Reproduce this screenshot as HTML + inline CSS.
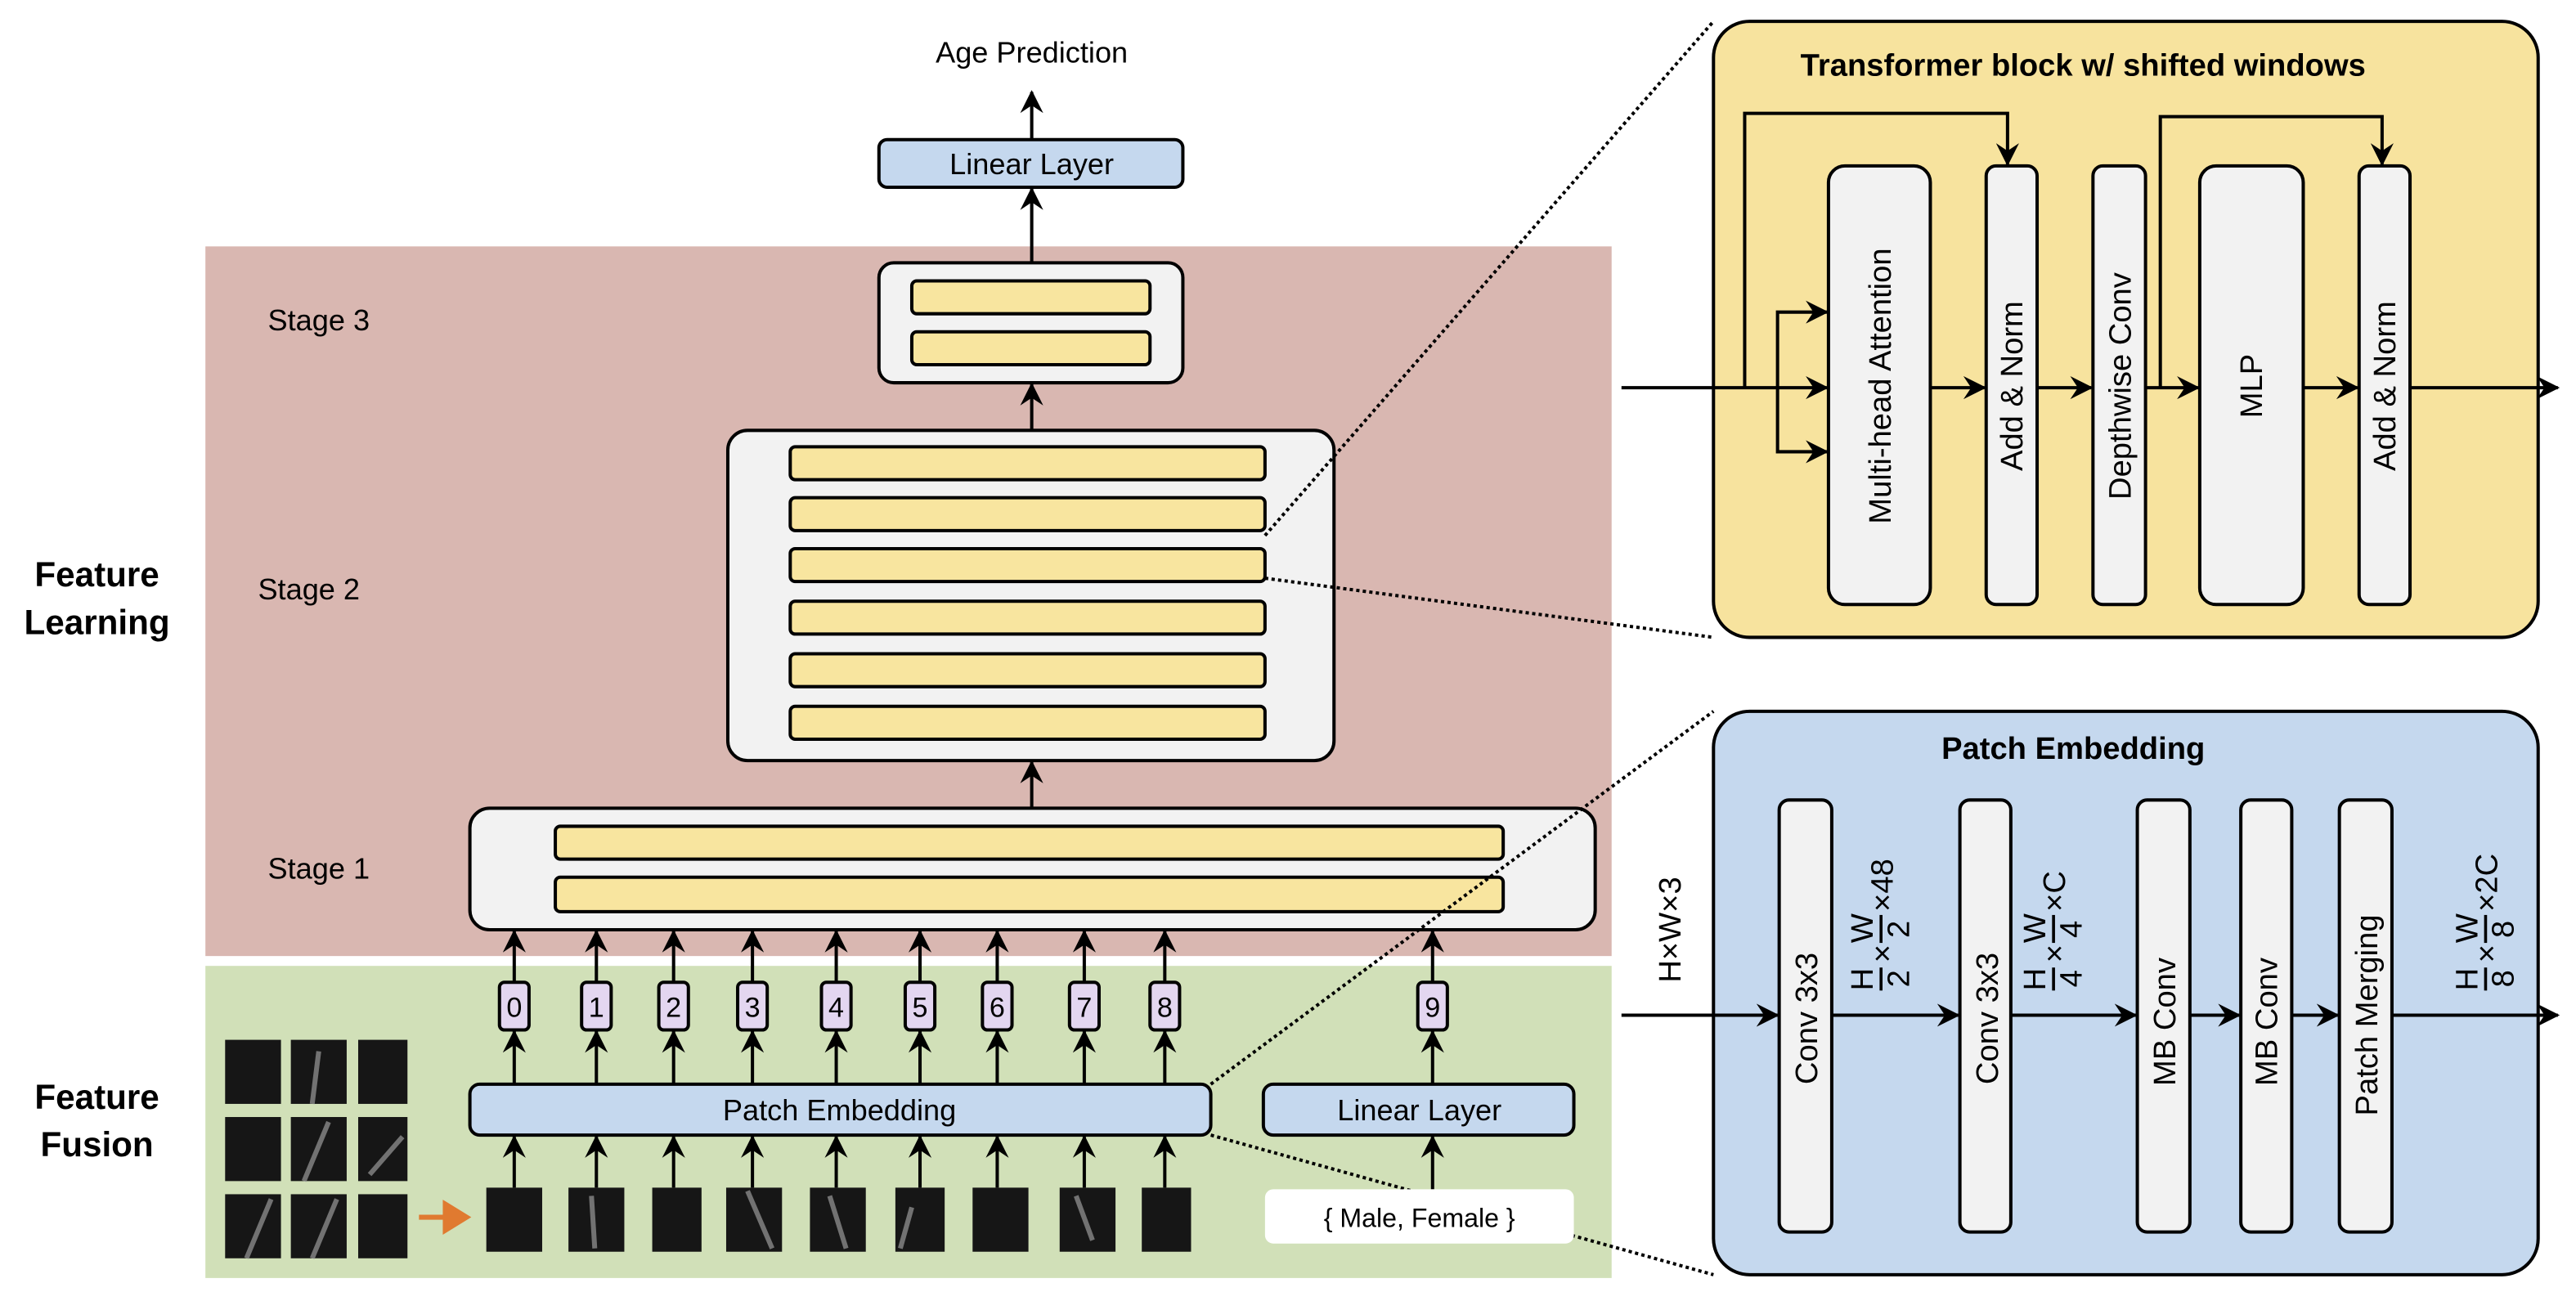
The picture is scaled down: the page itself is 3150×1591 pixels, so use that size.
<!DOCTYPE html>
<html><head><meta charset="utf-8"><style>html,body{margin:0;padding:0;background:#fff;}svg{display:block}text{font-family:"Liberation Sans",Arial,sans-serif;fill:#000}</style></head><body>
<svg width="3150" height="1591" viewBox="0 0 1568 792" xmlns="http://www.w3.org/2000/svg">
<defs>
<marker id="a" viewBox="0 0 12 12" refX="11" refY="6" markerWidth="14" markerHeight="14" orient="auto" markerUnits="userSpaceOnUse"><path d="M0,0 L12,6 L0,12 L4,6 z" fill="#000"/></marker>
</defs>
<rect x="125" y="150" width="856" height="432" fill="#d9b7b1"/>
<rect x="125" y="588" width="856" height="190" fill="#d1e0b8"/>
<g font-weight="bold" font-size="21" text-anchor="middle">
<text x="59" y="357">Feature</text><text x="59" y="386">Learning</text>
<text x="59" y="675">Feature</text><text x="59" y="704">Fusion</text></g>
<g font-size="18"><text x="163" y="201">Stage 3</text><text x="157" y="365">Stage 2</text><text x="163" y="535">Stage 1</text></g>
<text x="628" y="38" font-size="18" text-anchor="middle">Age Prediction</text>
<g stroke="#000" stroke-width="2" fill="none" marker-end="url(#a)">
<line x1="628" y1="85" x2="628" y2="56"/><line x1="628" y1="160" x2="628" y2="115"/>
<line x1="628" y1="262" x2="628" y2="234"/><line x1="628" y1="492" x2="628" y2="464"/>
</g>
<rect x="535" y="85" width="185" height="29" rx="5" fill="#c5d8ee" stroke="#000" stroke-width="2"/>
<text x="628" y="106" font-size="18" text-anchor="middle">Linear Layer</text>
<g stroke="#000" stroke-width="2">
<rect x="535" y="160" width="185" height="73" rx="9" fill="#f2f2f2"/>
<rect x="555" y="171" width="145" height="20" rx="3" fill="#f8e59f"/><rect x="555" y="202" width="145" height="20" rx="3" fill="#f8e59f"/>
<rect x="443" y="262" width="369" height="201" rx="12" fill="#f2f2f2"/>
<rect x="481" y="272" width="289" height="20" rx="3" fill="#f8e59f"/><rect x="481" y="303" width="289" height="20" rx="3" fill="#f8e59f"/>
<rect x="481" y="334" width="289" height="20" rx="3" fill="#f8e59f"/><rect x="481" y="366" width="289" height="20" rx="3" fill="#f8e59f"/>
<rect x="481" y="398" width="289" height="20" rx="3" fill="#f8e59f"/><rect x="481" y="430" width="289" height="20" rx="3" fill="#f8e59f"/>
<rect x="286" y="492" width="685" height="74" rx="12" fill="#f2f2f2"/>
<rect x="338" y="503" width="577" height="20" rx="3" fill="#f8e59f"/><rect x="338" y="534" width="577" height="21" rx="3" fill="#f8e59f"/>
</g>
<g stroke="#000" stroke-width="2" fill="none" stroke-dasharray="2,2">
<line x1="770" y1="326" x2="1043" y2="13"/><line x1="770" y1="352" x2="1043" y2="388"/>
<line x1="737" y1="660" x2="1043" y2="433"/><line x1="737" y1="691" x2="1043" y2="776"/>
</g>
<g stroke="#000" stroke-width="2" marker-end="url(#a)">
<line x1="313" y1="598" x2="313" y2="567"/><line x1="363" y1="598" x2="363" y2="567"/><line x1="410" y1="598" x2="410" y2="567"/><line x1="458" y1="598" x2="458" y2="567"/><line x1="509" y1="598" x2="509" y2="567"/><line x1="560" y1="598" x2="560" y2="567"/><line x1="607" y1="598" x2="607" y2="567"/><line x1="660" y1="598" x2="660" y2="567"/><line x1="709" y1="598" x2="709" y2="567"/><line x1="872" y1="598" x2="872" y2="567"/>
<line x1="313" y1="660" x2="313" y2="628"/><line x1="363" y1="660" x2="363" y2="628"/><line x1="410" y1="660" x2="410" y2="628"/><line x1="458" y1="660" x2="458" y2="628"/><line x1="509" y1="660" x2="509" y2="628"/><line x1="560" y1="660" x2="560" y2="628"/><line x1="607" y1="660" x2="607" y2="628"/><line x1="660" y1="660" x2="660" y2="628"/><line x1="709" y1="660" x2="709" y2="628"/><line x1="872" y1="660" x2="872" y2="628"/>
<line x1="313" y1="723" x2="313" y2="692"/><line x1="363" y1="723" x2="363" y2="692"/><line x1="410" y1="723" x2="410" y2="692"/><line x1="458" y1="723" x2="458" y2="692"/><line x1="509" y1="723" x2="509" y2="692"/><line x1="560" y1="723" x2="560" y2="692"/><line x1="607" y1="723" x2="607" y2="692"/><line x1="660" y1="723" x2="660" y2="692"/><line x1="709" y1="723" x2="709" y2="692"/><line x1="872" y1="724" x2="872" y2="692"/>
</g>
<g stroke="#000" stroke-width="2" fill="#e3d6f0">
<rect x="304" y="598" width="18" height="29" rx="3"/><rect x="354" y="598" width="18" height="29" rx="3"/><rect x="401" y="598" width="18" height="29" rx="3"/><rect x="449" y="598" width="18" height="29" rx="3"/><rect x="500" y="598" width="18" height="29" rx="3"/><rect x="551" y="598" width="18" height="29" rx="3"/><rect x="598" y="598" width="18" height="29" rx="3"/><rect x="651" y="598" width="18" height="29" rx="3"/><rect x="700" y="598" width="18" height="29" rx="3"/><rect x="863" y="598" width="18" height="29" rx="3"/>
</g>
<g font-size="17" text-anchor="middle">
<text x="313" y="619">0</text><text x="363" y="619">1</text><text x="410" y="619">2</text><text x="458" y="619">3</text><text x="509" y="619">4</text><text x="560" y="619">5</text><text x="607" y="619">6</text><text x="660" y="619">7</text><text x="709" y="619">8</text><text x="872" y="619">9</text></g>
<rect x="286" y="660" width="451" height="31" rx="6" fill="#c5d8ee" stroke="#000" stroke-width="2"/>
<text x="511" y="682" font-size="18" text-anchor="middle">Patch Embedding</text>
<rect x="769" y="660" width="189" height="31" rx="6" fill="#c5d8ee" stroke="#000" stroke-width="2"/>
<text x="864" y="682" font-size="18" text-anchor="middle">Linear Layer</text>
<rect x="770" y="724" width="188" height="33" rx="5" fill="#fff"/>
<text x="864" y="747" font-size="16" text-anchor="middle">{ Male, Female }</text>
<g fill="#161616">
<rect x="137" y="633" width="34" height="39"/><rect x="177" y="633" width="34" height="39"/><rect x="218" y="633" width="30" height="39"/>
<rect x="137" y="680" width="34" height="39"/><rect x="177" y="680" width="34" height="39"/><rect x="218" y="680" width="30" height="39"/>
<rect x="137" y="727" width="34" height="39"/><rect x="177" y="727" width="34" height="39"/><rect x="218" y="727" width="30" height="39"/>
<rect x="296" y="723" width="34" height="39"/><rect x="346" y="723" width="34" height="39"/><rect x="397" y="723" width="30" height="39"/><rect x="442" y="723" width="34" height="39"/><rect x="493" y="723" width="34" height="39"/><rect x="545" y="723" width="30" height="39"/><rect x="592" y="723" width="34" height="39"/><rect x="645" y="723" width="34" height="39"/><rect x="695" y="723" width="30" height="39"/>
</g>
<g stroke="#999" stroke-width="3" opacity="0.7">
<line x1="190" y1="672" x2="194" y2="640"/><line x1="185" y1="719" x2="200" y2="683"/><line x1="190" y1="766" x2="205" y2="730"/><line x1="150" y1="766" x2="165" y2="730"/><line x1="245" y1="692" x2="225" y2="715"/>
<line x1="455" y1="725" x2="470" y2="760"/><line x1="505" y1="728" x2="515" y2="760"/><line x1="555" y1="735" x2="548" y2="760"/><line x1="655" y1="728" x2="665" y2="755"/><line x1="360" y1="728" x2="362" y2="760"/>
</g>
<g stroke="#e07a30" stroke-width="3" fill="#e07a30"><line x1="255" y1="741" x2="275" y2="741"/><path d="M271,733 L284,741 L271,749 z"/></g>
<rect x="1043" y="13" width="502" height="375" rx="22" fill="#f7e39e" stroke="#000" stroke-width="2"/>
<text x="1268" y="46" font-size="19" font-weight="bold" text-anchor="middle">Transformer block w/ shifted windows</text>
<g stroke="#000" stroke-width="2" fill="#f2f2f2">
<rect x="1113" y="101" width="62" height="267" rx="10"/><rect x="1209" y="101" width="31" height="267" rx="6"/><rect x="1274" y="101" width="32" height="267" rx="6"/><rect x="1339" y="101" width="63" height="267" rx="10"/><rect x="1436" y="101" width="31" height="267" rx="6"/>
</g>
<g stroke="#000" stroke-width="2" fill="none" marker-end="url(#a)">
<line x1="987" y1="236" x2="1112" y2="236"/>
<polyline points="1082,236 1082,190 1112,190"/><polyline points="1082,236 1082,275 1112,275"/>
<polyline points="1062,236 1062,69 1222,69 1222,100"/>
<polyline points="1315,236 1315,71 1450,71 1450,100"/>
<line x1="1175" y1="236" x2="1208" y2="236"/><line x1="1240" y1="236" x2="1273" y2="236"/><line x1="1306" y1="236" x2="1338" y2="236"/><line x1="1402" y1="236" x2="1435" y2="236"/><line x1="1467" y1="236" x2="1557" y2="236"/>
</g>
<g font-size="19" text-anchor="middle">
<text transform="translate(1151,235) rotate(-90)">Multi-head Attention</text>
<text transform="translate(1231,235) rotate(-90)">Add &amp; Norm</text>
<text transform="translate(1297,235) rotate(-90)">Depthwise Conv</text>
<text transform="translate(1377,235) rotate(-90)">MLP</text>
<text transform="translate(1458,235) rotate(-90)">Add &amp; Norm</text>
</g>
<rect x="1043" y="433" width="502" height="343" rx="22" fill="#c5d8ee" stroke="#000" stroke-width="2"/>
<text x="1262" y="462" font-size="19" font-weight="bold" text-anchor="middle">Patch Embedding</text>
<g stroke="#000" stroke-width="2" fill="#f2f2f2">
<rect x="1083" y="487" width="32" height="263" rx="6"/><rect x="1193" y="487" width="31" height="263" rx="6"/><rect x="1301" y="487" width="32" height="263" rx="6"/><rect x="1364" y="487" width="31" height="263" rx="6"/><rect x="1424" y="487" width="32" height="263" rx="6"/>
</g>
<g stroke="#000" stroke-width="2" fill="none" marker-end="url(#a)">
<line x1="987" y1="618" x2="1082" y2="618"/><line x1="1115" y1="618" x2="1192" y2="618"/><line x1="1224" y1="618" x2="1300" y2="618"/><line x1="1333" y1="618" x2="1363" y2="618"/><line x1="1395" y1="618" x2="1423" y2="618"/><line x1="1456" y1="618" x2="1557" y2="618"/>
</g>
<g font-size="19" text-anchor="middle">
<text transform="translate(1106,620) rotate(-90)">Conv 3x3</text>
<text transform="translate(1216,620) rotate(-90)">Conv 3x3</text>
<text transform="translate(1324,622) rotate(-90)">MB Conv</text>
<text transform="translate(1386,622) rotate(-90)">MB Conv</text>
<text transform="translate(1447,618) rotate(-90)">Patch Merging</text>
</g>
<text transform="translate(1023,566) rotate(-90)" font-size="19" text-anchor="middle">H×W×3</text>
<g font-size="19">
<g transform="translate(1140,603) rotate(-90)">
<text x="0" y="0">H</text><line x1="0" y1="5" x2="14" y2="5" stroke="#000" stroke-width="1.8"/><text x="2" y="22">2</text>
<text x="17" y="12">×</text>
<text x="29" y="0">W</text><line x1="29" y1="5" x2="46" y2="5" stroke="#000" stroke-width="1.8"/><text x="32" y="22">2</text>
<text x="48" y="12">×48</text></g>
<g transform="translate(1245,603) rotate(-90)">
<text x="0" y="0">H</text><line x1="0" y1="5" x2="14" y2="5" stroke="#000" stroke-width="1.8"/><text x="2" y="22">4</text>
<text x="17" y="12">×</text>
<text x="29" y="0">W</text><line x1="29" y1="5" x2="46" y2="5" stroke="#000" stroke-width="1.8"/><text x="32" y="22">4</text>
<text x="48" y="12">×C</text></g>
<g transform="translate(1508,603) rotate(-90)">
<text x="0" y="0">H</text><line x1="0" y1="5" x2="14" y2="5" stroke="#000" stroke-width="1.8"/><text x="2" y="22">8</text>
<text x="17" y="12">×</text>
<text x="29" y="0">W</text><line x1="29" y1="5" x2="46" y2="5" stroke="#000" stroke-width="1.8"/><text x="32" y="22">8</text>
<text x="48" y="12">×2C</text></g>
</g>
</svg>
</body></html>
